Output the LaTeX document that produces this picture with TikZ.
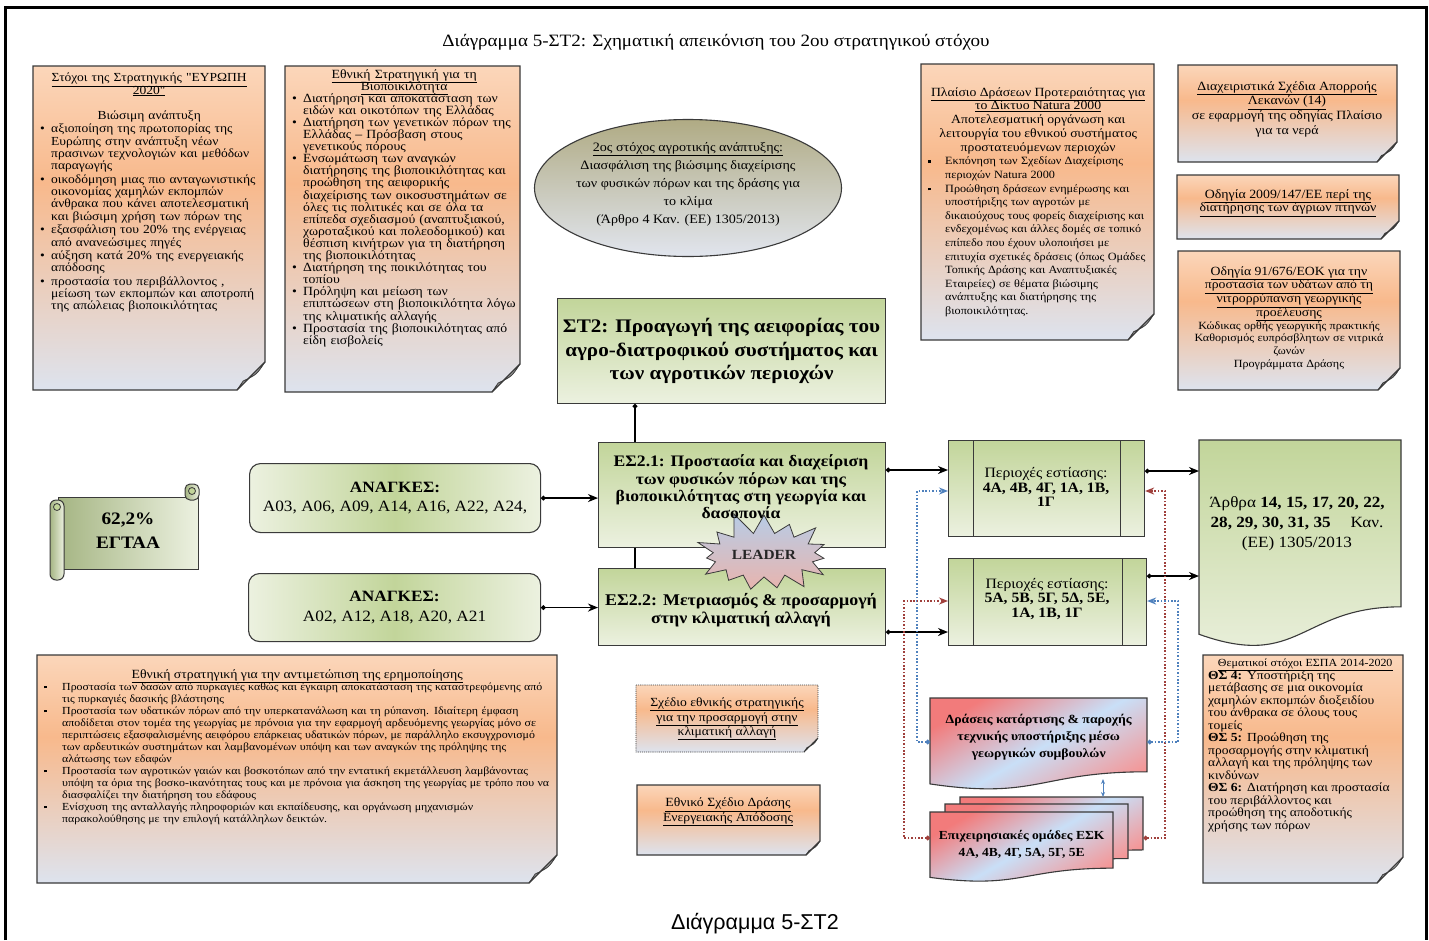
\documentclass[tikz,border=0pt]{standalone}
\usepackage{fontspec}
\setmainfont{Liberation Serif}[FakeStretch=1.1]
\newfontfamily\noligs{Liberation Serif}[FakeStretch=1.1]
\newfontfamily\arialf{Liberation Sans}
\usetikzlibrary{arrows.meta,shapes.symbols,shapes.geometric,calc}

\definecolor{peach}{HTML}{FBD6BA}
\definecolor{orng}{HTML}{F8B98C}
\definecolor{bgrey}{HTML}{DDE3EE}
\definecolor{gdark}{HTML}{C2D59A}
\definecolor{glight}{HTML}{ECF1E0}
\definecolor{bordc}{HTML}{3A3A3A}
\definecolor{dred}{HTML}{A0403C}
\definecolor{dblue}{HTML}{4F81BD}
\definecolor{khaki}{HTML}{B0AB84}
\definecolor{ellbot}{HTML}{E1E5EE}
\definecolor{redc}{HTML}{F27B7B}
\definecolor{lbluec}{HTML}{C9DFF7}
\definecolor{starb}{HTML}{B7CCE6}
\definecolor{starp}{HTML}{E8B4AE}

\pgfdeclareverticalshading{noteshade}{100bp}{color(0bp)=(bgrey); color(25bp)=(bgrey); color(57bp)=(orng); color(75bp)=(peach); color(100bp)=(peach)}

\newcommand\fs[2]{\fontsize{#1}{#2}\selectfont}
\newcommand\bi[1]{\par\noindent\hangindent=14pt\hangafter=1\makebox[14pt][l]{\hspace{3pt}\textbullet}{\let\\\newline#1}}
\newcommand\sqb{\raisebox{1.6pt}{\rule{2.8pt}{2.8pt}}}
\newcommand\si[2][20pt]{\par\noindent\hangindent=#1\hangafter=1\makebox[#1][l]{\hspace{3pt}\sqb}{\let\\\newline#2}}
\newcommand\dq{{\noligs"}}

% notebox: [extra], name, x1, y1, x2, y2, fold
\newcommand\notebox[7][]{%
  \path[notefill,#1] (#3,#4) -- (#5,#4) -- (#5,{#6-#7}) -- ({#5-#7},#6) -- (#3,#6) -- cycle;
  \node[inner sep=0pt, minimum width={#5-#3}, minimum height={#6-#4}, anchor=north west] (#2) at (#3,#4) {};
  \path[flap] (#5,{#6-#7}) .. controls ({#5-0.3*#7},{#6-0.55*#7}) .. ({#5-0.78*#7},{#6-0.32*#7}) -- ({#5-#7},#6) -- cycle;
}
% docshape: [style], x1, y1, x2, h
\newcommand\docshape[5][]{%
  \path[#1] (#2,#3) -- (#4,#3) -- (#4,{#3+0.802*#5}) .. controls ({(#2+#4)/2},{#3+0.802*#5}) and ({(#2+#4)/2},{#3+1.1075*#5}) .. (#2,{#3+0.934*#5}) -- cycle;
}

\tikzset{
 every node/.append style={execute at begin node={\lineskiplimit=-30pt\lineskip=0pt}},
 notefill/.style={shade, shading=noteshade, draw=bordc, line width=1.1pt},
 flap/.style={fill=black!40, draw=bordc, line width=0.8pt},
 txt/.style={inner sep=0pt, anchor=north west, align=left},
 ctxt/.style={inner sep=0pt, align=center},
 gbox/.style={draw=bordc, line width=1.1pt, top color=gdark, bottom color=glight, inner sep=0pt, anchor=north west, align=center},
 needbox/.style={draw=bordc, line width=1.1pt, rounded corners=11pt, left color=glight, right color=glight, middle color=gdark, inner sep=0pt, anchor=north west, align=center, font=\fs{15.7}{19.5}},
 conn/.style={line width=1.8pt, arrows={Circle[length=4.5pt]-Stealth[length=10pt,width=8pt]}},
 vline/.style={line width=1.8pt},
 reddot/.style={draw=dred, line width=1.6pt, dash pattern=on 1.6pt off 1.8pt, arrows={Circle[length=4.5pt]-Stealth[length=9pt,width=7pt]}},
 bluedot/.style={draw=dblue, line width=1.6pt, dash pattern=on 1.6pt off 1.8pt, arrows={Circle[length=4.5pt]-Stealth[length=9pt,width=7pt]}},
 docfill/.style={draw=bordc, line width=1.1pt, left color=redc, right color=redc!80, middle color=lbluec, shading angle=30},
 scrollf/.style={draw=bordc, line width=1pt, left color=gdark!85!black, right color=glight},
 pbox/.style={draw=bordc, line width=1.1pt, top color=gdark, bottom color=glight, inner sep=0pt, anchor=north west},
}

\begin{document}
\begin{tikzpicture}[x=1pt,y=-1pt]
\useasboundingbox (0,0) rectangle (1429,940);
\fill[white] (0,0) rectangle (1429,940);
\draw[line width=3pt] (5,940) -- (5,7) -- (1426,7) -- (1426,940);

\node[font=\fs{17.3}{20}] (title) at (716,42) {Διάγραμμα 5-ΣΤ2: Σχηματική απεικόνιση του 2ου στρατηγικού στόχου};
\node[font=\arialf\fs{21.5}{24}] (caption) at (755,924) {Διάγραμμα 5-ΣΤ2};

% ---------- note boxes ----------
\notebox{boxA}{33}{66}{265}{390}{28}
\node[txt, text width=224pt, font=\fs{12.3}{12.3}] (boxAT) at (37,73) {%
{\centering\underline{Στόχοι της Στρατηγικής \dq ΕΥΡΩΠΗ}\\\underline{2020\dq}\par}
\vspace{13pt}
{\centering Βιώσιμη ανάπτυξη\par}
\setlength\parskip{1.2pt}%
\bi{αξιοποίηση της πρωτοπορίας της\\Ευρώπης στην ανάπτυξη νέων\\πρασινων τεχνολογιών και μεθόδων\\παραγωγής}
\bi{οικοδόμηση μιας πιο ανταγωνιστικής\\οικονομίας χαμηλών εκπομπών\\άνθρακα που κάνει αποτελεσματική\\και βιώσιμη χρήση των πόρων της}
\bi{εξασφάλιση του 20\% της ενέργειας\\από ανανεώσιμες πηγές}
\bi{αύξηση κατά 20\% της ενεργειακής\\απόδοσης}
\bi{προστασία του περιβάλλοντος ,\\μείωση των εκπομπών και αποτροπή\\της απώλειας βιοποικιλότητας}\par};

\notebox{boxB}{285}{66}{520}{392}{28}
\node[txt, text width=230pt, font=\fs{12.5}{12.1}] (boxBT) at (289,69) {%
{\centering\underline{Εθνική Στρατηγική για τη}\\\underline{Βιοποικιλότητα}\par}
\bi{Διατήρηση και αποκατάσταση των\\ειδών και οικοτόπων της Ελλάδας}
\bi{Διατήρηση των γενετικών πόρων της\\Ελλάδας – Πρόσβαση στους\\γενετικούς πόρους}
\bi{Ενσωμάτωση των αναγκών\\διατήρησης της βιοποικιλότητας και\\προώθηση της αειφορικής\\διαχείρισης των οικοσυστημάτων σε\\όλες τις πολιτικές και σε όλα τα\\επίπεδα σχεδιασμού (αναπτυξιακού,\\χωροταξικού και πολεοδομικού) και\\θέσπιση κινήτρων για τη διατήρηση\\της βιοποικιλότητας}
\bi{Διατήρηση της ποικιλότητας του\\τοπίου}
\bi{Πρόληψη και μείωση των\\επιπτώσεων στη βιοποικιλότητα λόγω\\της κλιματικής αλλαγής}
\bi{Προστασία της βιοποικιλότητας από\\είδη εισβολείς}\par};

\notebox{natura}{921}{64}{1154}{340}{26}
\node[txt, text width=226pt] (naturaT) at (925,87) {%
{\centering\fs{12.5}{13.8}\underline{Πλαίσιο Δράσεων Προτεραιότητας για}\\\underline{το Δίκτυο Natura 2000}\\Αποτελεσματική οργάνωση και\\λειτουργία του εθνικού συστήματος\\προστατευόμενων περιοχών\par}
{\fs{11.1}{13.6}%
\si{Εκπόνηση των Σχεδίων Διαχείρισης\\περιοχών Natura 2000}
\si{Προώθηση δράσεων ενημέρωσης και\\υποστήριξης των αγροτών με\\δικαιούχους τους φορείς διαχείρισης και\\ενδεχομένως και άλλες δομές σε τοπικό\\επίπεδο που έχουν υλοποιήσει με\\επιτυχία σχετικές δράσεις (όπως Ομάδες\\Τοπικής Δράσης και Αναπτυξιακές\\Εταιρείες) σε θέματα βιώσιμης\\ανάπτυξης και διατήρησης της\\βιοποικιλότητας.}\par}};

\notebox{rOne}{1178}{65}{1397}{162}{20}
\node[ctxt, font=\fs{12.6}{14.6}] (rOneT) at (1287,109) {\underline{Διαχειριστικά Σχέδια Απορροής}\\\underline{Λεκανών (14)}\\σε εφαρμογή της οδηγίας Πλαίσιο\\για τα νερά};

\notebox{rTwo}{1177}{175}{1399}{239}{18}
\node[ctxt, font=\fs{12.6}{13.5}] (rTwoT) at (1288,203) {\underline{Οδηγία 2009/147/ΕΕ περί της}\\\underline{διατήρησης των άγριων πτηνών}};

\notebox{rThree}{1178}{251}{1400}{390}{22}
\node[inner sep=0pt, text width=216pt, align=center] (rThreeT) at (1289,318) {%
{\fs{12.5}{13.7}\underline{Οδηγία 91/676/ΕΟΚ για την}\\\underline{προστασία των υδάτων από τη}\\\underline{νιτρορρύπανση γεωργικής}\\\underline{προέλευσης}\par}
{\fs{11}{12.7}Κώδικας ορθής γεωργικής πρακτικής\\Καθορισμός ευπρόσβλητων σε νιτρικά\\ζωνών\\Προγράμματα Δράσης\par}};

\notebox{desert}{37}{655}{557}{883}{28}
\node[txt, text width=512pt] (desertT) at (41,669) {%
{\centering\fs{12.5}{13}\underline{Εθνική στρατηγική για την αντιμετώπιση της ερημοποίησης}\par}
{\fs{10.8}{12}%
\si[21pt]{Προστασία των δασών από πυρκαγιές καθώς και έγκαιρη αποκατάσταση της καταστρεφόμενης από\\τις πυρκαγιές δασικής βλάστησης}
\si[21pt]{Προστασία των υδατικών πόρων από την υπερκατανάλωση και τη ρύπανση. Ιδιαίτερη έμφαση\\αποδίδεται στον τομέα της γεωργίας με πρόνοια για την εφαρμογή αρδευόμενης γεωργίας μόνο σε\\περιπτώσεις εξασφαλισμένης αειφόρου επάρκειας υδατικών πόρων, με παράλληλο εκσυγχρονισμό\\των αρδευτικών συστημάτων και λαμβανομένων υπόψη και των αναγκών της πρόληψης της\\αλάτωσης των εδαφών}
\si[21pt]{Προστασία των αγροτικών γαιών και βοσκοτόπων από την εντατική εκμετάλλευση λαμβάνοντας\\υπόψη τα όρια της βοσκο-ικανότητας τους και με πρόνοια για άσκηση της γεωργίας με τρόπο που να\\διασφαλίζει την διατήρηση του εδάφους}
\si[21pt]{Ενίσχυση της ανταλλαγής πληροφοριών και εκπαίδευσης, και οργάνωση μηχανισμών\\παρακολούθησης με την επιλογή κατάλληλων δεικτών.}\par}};

\notebox[densely dotted, line width=0.8pt]{adapt}{636}{685}{818}{752}{14}
\node[ctxt, font=\fs{12.4}{14.5}] (adaptT) at (727,719) {\underline{Σχέδιο εθνικής στρατηγικής}\\\underline{για την προσαρμογή στην}\\\underline{κλιματική αλλαγή}};

\notebox{energy}{637}{785}{820}{855}{14}
\node[ctxt, font=\fs{12.5}{14.5}] (energyT) at (728,812) {\underline{Εθνικό Σχέδιο Δράσης}\\\underline{Ενεργειακής Απόδοσης}};

\notebox{themat}{1203}{655}{1403}{883}{26}
\node[txt, text width=194pt] (thematT) at (1208,659) {%
{\centering\fs{10.9}{12}\underline{Θεματικοί στόχοι ΕΣΠΑ 2014-2020}\par}
{\fs{12.3}{12.5}\textbf{ΘΣ 4:} Υποστήριξη της\\μετάβασης σε μια οικονομία\\χαμηλών εκπομπών διοξειδίου\\του άνθρακα σε όλους τους\\τομείς\\\textbf{ΘΣ 5:} Προώθηση της\\προσαρμογής στην κλιματική\\αλλαγή και της πρόληψης των\\κινδύνων\\\textbf{ΘΣ 6:} Διατήρηση και προστασία\\του περιβάλλοντος και\\προώθηση της αποδοτικής\\χρήσης των πόρων\par}};

% ---------- ellipse ----------
\node[ellipse, minimum width=307pt, minimum height=137pt, draw=bordc, line width=1.1pt, top color=khaki, bottom color=ellbot, inner sep=0pt] (goal) at (688,188) {};
\node[ctxt, font=\fs{12.8}{18}] (goalT) at (688,184) {\underline{2ος στόχος  αγροτικής ανάπτυξης:}\\Διασφάλιση της βιώσιμης διαχείρισης\\των φυσικών πόρων και της δράσης για\\το κλίμα\\(Άρθρο 4 Καν. (ΕΕ)  1305/2013)};

% ---------- central boxes ----------
\node[gbox, minimum width=328pt, minimum height=105pt, font=\bfseries\fs{19.2}{23.5}] (st2) at (557,298) {ΣΤ2: Προαγωγή  της αειφορίας του\\αγρο-διατροφικού συστήματος και\\των αγροτικών περιοχών};
\node[gbox, minimum width=287pt, minimum height=105pt] (es21) at (598,442) {};
\node[gbox, minimum width=287pt, minimum height=77pt] (es22) at (598,568) {};

\coordinate (vx) at (635,0);
\draw[vline, arrows={Circle[length=4.5pt]-}] (st2.south -| vx) -- (es21.north -| vx);
\draw[vline] (es21.south -| vx) -- (es22.north -| vx);

\node[starburst, starburst points=15, starburst point height=24pt, random starburst=11, minimum width=150pt, minimum height=92pt, draw=bordc, line width=0.8pt, top color=starb, bottom color=starp, font=\bfseries\fs{14}{16}, text=black!85, inner sep=0pt] (leader) at (764,555) {LEADER};

\node[ctxt, font=\bfseries\fs{16}{17.3}] (es21T) at (741,487) {ΕΣ2.1: Προστασία  και διαχείριση\\των φυσικών πόρων και της\\βιοποικιλότητας στη γεωργία και\\δασοπονία};
\node[ctxt, font=\bfseries\fs{16.3}{18}] (es22T) at (741,610) {ΕΣ2.2: Μετριασμός \& προσαρμογή\\στην κλιματική  αλλαγή};

% ---------- needs ----------
\node[needbox, minimum width=291pt, minimum height=69pt] (needA) at (249,463) {\textbf{ΑΝΑΓΚΕΣ:}\\Α03, Α06, Α09, Α14, Α16, Α22, Α24,};
\node[needbox, minimum width=292pt, minimum height=68pt] (needB) at (248,573) {\textbf{ΑΝΑΓΚΕΣ:}\\Α02, Α12, Α18, Α20, Α21};
\draw[conn] (needA.east) -- (needA.east -| es21.west);
\draw[conn] (needB.east) -- (needB.east -| es22.west);

% ---------- scroll ----------
\path[scrollf] (58,497) rectangle (198,569);
\path[scrollf, rounded corners=5pt] (185,484) rectangle (199,500);
\path[draw=bordc, line width=0.8pt, fill=gdark] (192,491) circle (3.5pt);
\path[scrollf, rounded corners=6pt] (50,500) rectangle (64,580);
\path[draw=bordc, line width=0.8pt, fill=gdark] (57,507) circle (3.5pt);
\node[ctxt, font=\bfseries\fs{17.5}{24}] (egtaa) at (128,531) {62,2\%\\ΕΓΤΑΑ};

% ---------- focus areas ----------
\node[pbox, minimum width=196pt, minimum height=96pt] (pOne) at (948,440) {};
\draw[line width=1pt, bordc] (973,440) -- (973,536) (1120,440) -- (1120,536);
\node[ctxt, font=\fs{14.3}{14.2}] (pOneT) at (1046,487) {Περιοχές εστίασης:\\\textbf{4Α, 4Β, 4Γ, 1Α, 1Β,}\\\textbf{1Γ}};
\node[pbox, minimum width=198pt, minimum height=87pt] (pTwo) at (948,558) {};
\draw[line width=1pt, bordc] (973,558) -- (973,645) (1122,558) -- (1122,645);
\node[ctxt, font=\fs{14.3}{14.2}] (pTwoT) at (1047,599) {Περιοχές εστίασης:\\\textbf{5Α, 5Β, 5Γ, 5Δ, 5Ε,}\\\textbf{1Α, 1Β, 1Γ}};

\coordinate (yA) at (0,470);
\coordinate (yB) at (0,632);
\draw[conn] (es21.east |- yA) -- (pOne.west |- yA);
\draw[conn] (es22.east |- yB) -- (pTwo.west |- yB);

% ---------- articles ----------
\docshape[pbox]{1199}{440}{1401}{208}
\node[inner sep=0pt, minimum width=202pt, minimum height=190pt, anchor=north west] (arthra) at (1199,440) {};
\node[ctxt, font=\fs{15.6}{20}] (arthraT) at (1297,524) {Άρθρα \textbf{14, 15, 17, 20, 22,}\\\textbf{28, 29, 30, 31, 35}\quad\ Καν.\\(ΕΕ) 1305/2013};
\coordinate (yC) at (0,471);
\coordinate (yD) at (0,576);
\draw[conn] (pOne.east |- yC) -- (arthra.west |- yC);
\draw[conn] (pTwo.east |- yD) -- (arthra.west |- yD);

% ---------- advisory ----------
\docshape[docfill]{930}{698}{1147}{92}
\node[inner sep=0pt, minimum width=217pt, minimum height=78pt, anchor=north west, align=center, font=\bfseries\fs{12.5}{17}] (dras) at (930,698) {Δράσεις κατάρτισης  \& παροχής\\τεχνικής υποστήριξης μέσω\\γεωργικών  συμβουλών};

\docshape[docfill]{960}{797}{1143}{66}
\docshape[docfill]{945}{804}{1128}{68}
\docshape[docfill]{930}{812}{1113}{70}
\node[inner sep=0pt, minimum width=183pt, minimum height=62pt, anchor=north west] (epiback) at (960,797) {};
\node[inner sep=0pt, minimum width=183pt, minimum height=64pt, anchor=north west, align=center, font=\bfseries\fs{12.3}{16.5}] (epi) at (930,812) {Επιχειρησιακές  ομάδες ΕΣΚ\\4Α, 4Β, 4Γ, 5Α, 5Γ, 5Ε};

\coordinate (da1) at (1103,779);
\coordinate (da2) at (1103,797);
\draw[dblue, line width=1pt, arrows={Stealth[length=5pt,width=4pt]-Stealth[length=5pt,width=4pt]}] (da1) -- (da2);

\coordinate (yP1) at (0,491);
\coordinate (yP2) at (0,601);
\coordinate (bl) at (917,742);
\coordinate (rl) at (904,838);
\coordinate (rr) at (1165,838);
\coordinate (br) at (1178,742);
\draw[bluedot] (dras.west |- bl) -- (bl) |- (pOne.west |- yP1);
\draw[reddot] (epi.west |- rl) -- (rl) |- (pTwo.west |- yP2);
\draw[reddot] (epiback.east |- rr) -- (rr) |- (pOne.east |- yP1);
\draw[bluedot] (dras.east |- br) -- (br) |- (pTwo.east |- yP2);
\end{tikzpicture}
\end{document}
